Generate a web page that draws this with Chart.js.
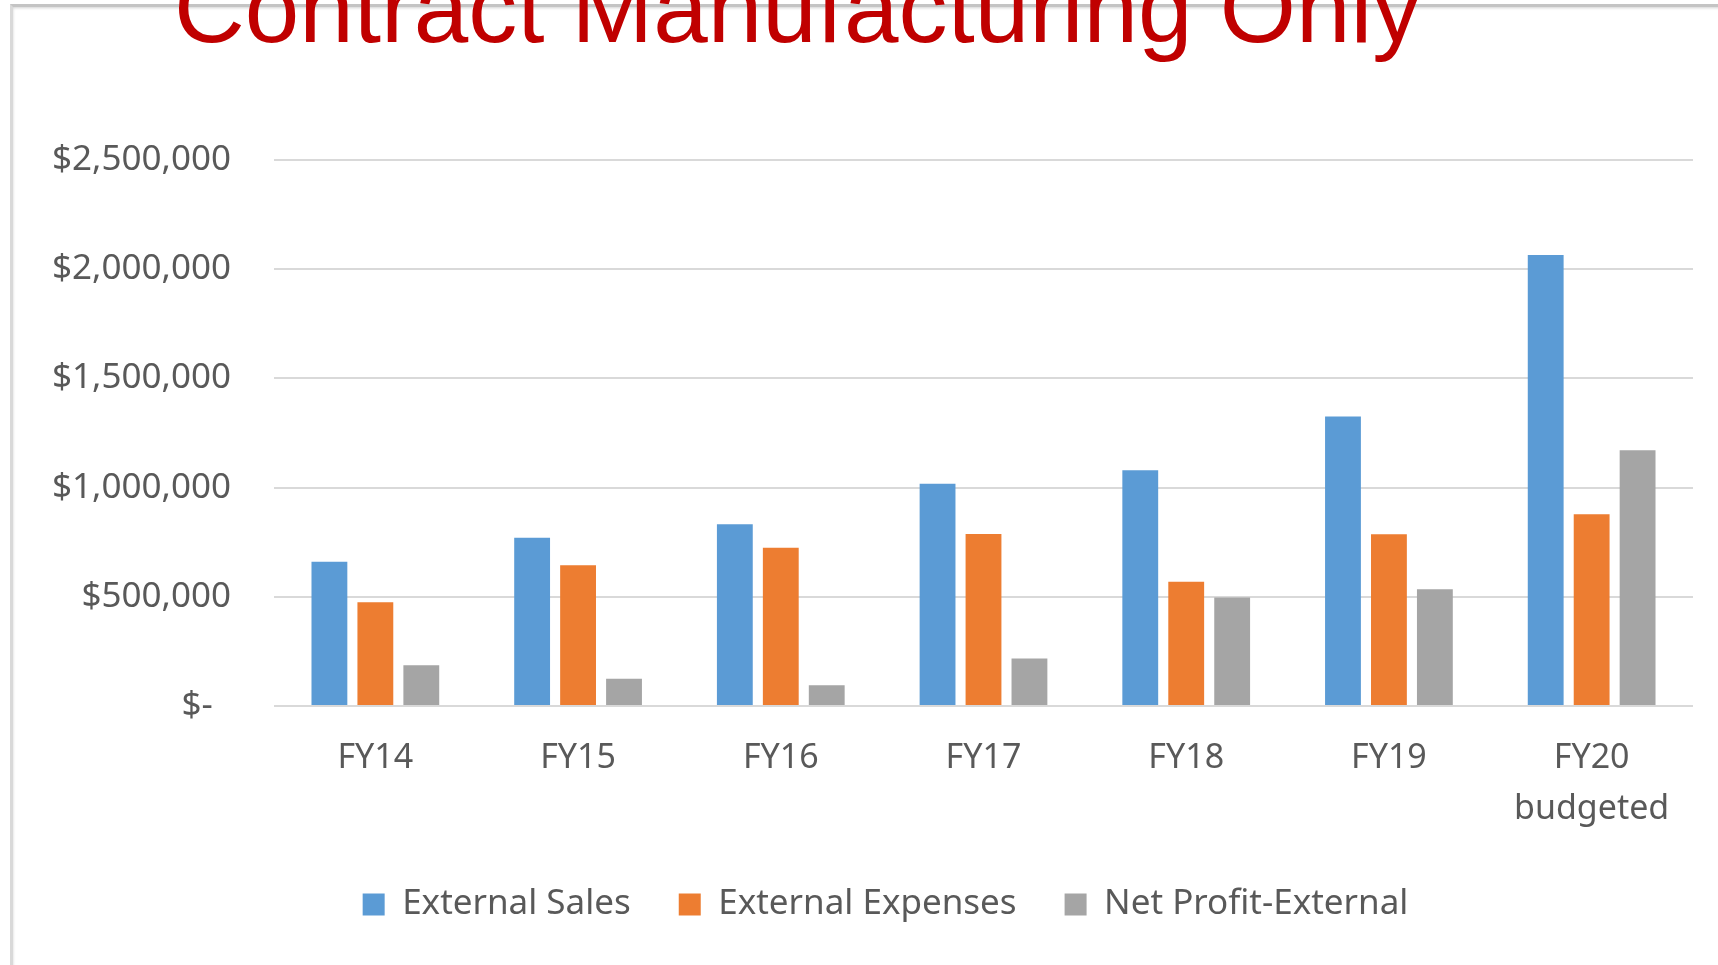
<!DOCTYPE html>
<html>
<head>
<meta charset="utf-8">
<title>Contract Manufacturing Only</title>
<script src="https://cdn.jsdelivr.net/npm/chart.js@4.4.1/dist/chart.umd.min.js"></script>
<style>
  html, body { margin: 0; padding: 0; background: #fff; overflow: hidden; width: 1718px; height: 965px; }
  #frame {
    position: absolute; left: 10px; top: 4px; width: 1730px; height: 990px;
    border-left: 3px solid #d9d9d9; border-top: 3px solid #c4c4c4;
    box-shadow: inset 2px 3px 3px -2px rgba(0,0,0,0.18);
  }
  #title {
    position: absolute; left: 174px; top: -41px;
    font-family: 'Liberation Sans', Arial, sans-serif; font-size: 98px; line-height: 98px;
    color: #C00000; white-space: nowrap;
  }
  #wrap { position: absolute; left: 0; top: 0; }
</style>
</head>
<body>
<div id="frame"></div>
<div id="wrap"><canvas id="chart" width="1770" height="965"></canvas></div>
<div id="title">Contract Manufacturing Only</div>
<script>
// values
const years = ["FY14", "FY15", "FY16", "FY17", "FY18", "FY19", ["FY20", "budgeted"]];
const externalSales = [660000, 770000, 832000, 1018000, 1080000, 1325000, 2065000];
const externalExpenses = [475000, 645000, 725000, 787000, 569000, 786000, 878000];
const netProfitExternal = [187000, 125000, 95000, 217000, 497000, 535000, 1171000];
const yTicks = [0, 500000, 1000000, 1500000, 2000000, 2500000];

const textColor = "#595959";
Chart.defaults.font.family = "'Noto Sans', sans-serif";
Chart.defaults.color = textColor;

// 条形统计图
const ctx = document.getElementById("chart");

function money(v) {
  if (v === 0) return "$-  ";
  return "$" + v.toLocaleString("en-US");
}

// the legend in the picture sits a bit right of the plot centre
const legendShift = {
  id: "legendShift",
  afterLayout(chart) {
    chart.legend.left += 39;
    chart.legend.right += 39;
  },
};

new Chart(ctx, {
  type: "bar",
  data: {
    labels: years,
    datasets: [
      { label: "External Sales", data: externalSales, backgroundColor: "#5B9BD5" },
      { label: "External Expenses", data: externalExpenses, backgroundColor: "#ED7D31" },
      { label: "Net Profit-External", data: netProfitExternal, backgroundColor: "#A5A5A5" },
    ],
  },
  options: {
    responsive: false,
    animation: false,
    categoryPercentage: 0.68,
    barPercentage: 0.78,
    layout: { padding: { left: 0, right: 77, top: 160, bottom: 33 } },
    scales: {
      x: {
        grid: { display: false },
        border: { display: false },
        ticks: { font: { size: 34, lineHeight: 1.5 }, padding: 19, color: textColor },
        afterFit: (scale) => { scale.height = 133; },
      },
      y: {
        min: 0,
        max: 2500000,
        afterBuildTicks: (scale) => { scale.ticks = yTicks.map((v) => ({ value: v })); },
        grid: { color: "#D9D9D9", lineWidth: 2, drawTicks: false },
        border: { display: false },
        ticks: { font: { size: 35 }, padding: 43, color: textColor, callback: (v) => money(v) },
        afterFit: (scale) => { scale.width = 274; },
      },
    },
    plugins: {
      legend: {
        position: "bottom",
        labels: { font: { size: 35 }, boxWidth: 22, boxHeight: 22, padding: 48, color: textColor },
      },
      tooltip: { enabled: false },
    },
  },
  plugins: [legendShift],
});
</script>
</body>
</html>
